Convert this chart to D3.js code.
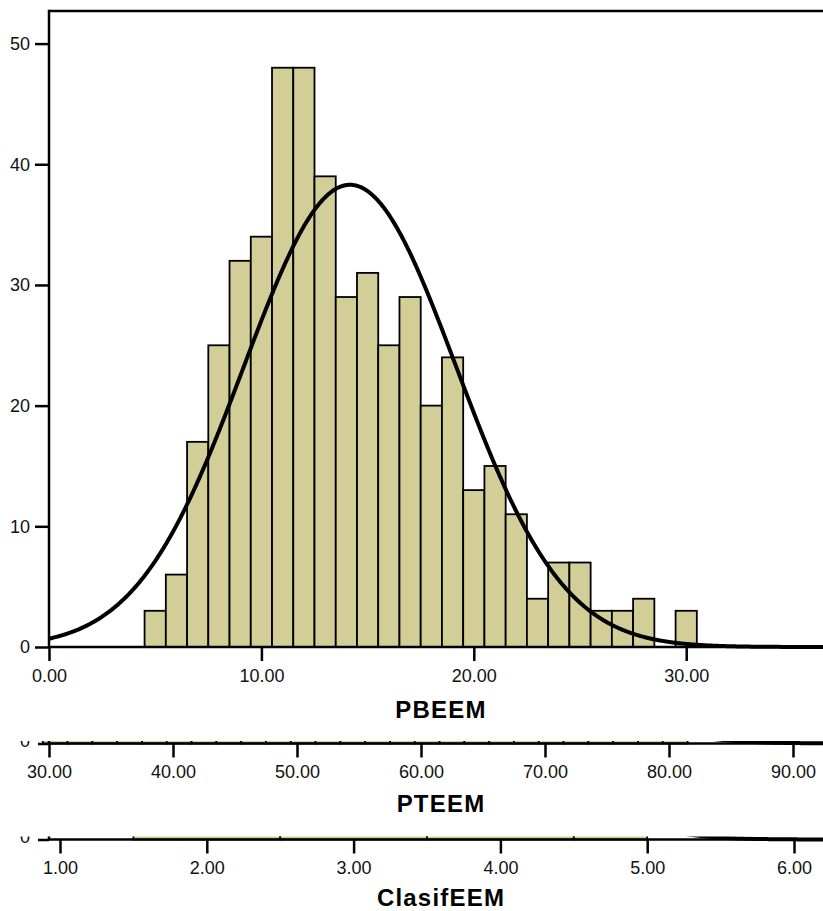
<!DOCTYPE html>
<html>
<head>
<meta charset="utf-8">
<script src="https://cdn.jsdelivr.net/npm/d3@7"></script>
<style>
  body { margin: 0; background: #fff; }
  svg { display: block; font-family: "Liberation Sans", Arial, sans-serif; }
</style>
</head>
<body>
<svg id="chart" width="823" height="911"></svg>
<script>
// PBEEM histogram (bin centres, width 1) and its fitted normal curve
const pbeemCenters = [5, 6, 7, 8, 9, 10, 11, 12, 13, 14, 15, 16, 17, 18, 19, 20, 21, 22, 23, 24, 25, 26, 27, 28, 30];
const pbeemCounts  = [3, 6, 17, 25, 32, 34, 48, 48, 39, 29, 31, 25, 29, 20, 24, 13, 15, 11, 4, 7, 7, 3, 3, 4, 3];
const pbeemBinWidth = 1;
const pbeemMean = 14.17;
const pbeemSd = 5.0;
const pbeemXTicks = [0, 10, 20, 30];
const pbeemYTicks = [0, 10, 20, 30, 40, 50];

// PTEEM histogram (bin centres, width 2); only its base strip shows
const pteemCenters = [30.5, 32.5, 34.5, 36.5, 38.5, 40.5, 42.5, 44.5, 46.5, 48.5, 50.5, 52.5, 54.5,
                      56.5, 58.5, 60.5, 62.5, 64.5, 66.5, 68.5, 70.5, 72.5, 74.5, 76.5, 78.5, 80.5];
const pteemCounts  = [4, 6, 9, 12, 15, 20, 24, 27, 30, 33, 35, 34, 31,
                      30, 28, 26, 24, 20, 18, 15, 12, 9, 7, 5, 4, 2];
const pteemBinWidth = 2;
const pteemMean = 53.0;
const pteemSd = 9.8;
const pteemXTicks = [30, 40, 50, 60, 70, 80, 90];

// ClasifEEM histogram (bin edges); only its base strip shows
const clasifEdges  = [1.5, 2.5, 3.5, 4.5, 5.0];
const clasifCounts = [110, 250, 105, 15];
const clasifBinWidth = 1;
const clasifMean = 3.05;
const clasifSd = 0.72;
const clasifXTicks = [1, 2, 3, 4, 5, 6];

const FILL = "#d3ce98";
const fmt = d3.format(".2f");
const svg = d3.select("#chart");

function normalCurve(n, bw, mean, sd) {
  const k = n * bw / (sd * Math.sqrt(2 * Math.PI));
  return x => k * Math.exp(-0.5 * ((x - mean) / sd) ** 2);
}

function styleAxis(g, fontSize) {
  g.select(".domain").remove();
  g.selectAll(".tick line").attr("stroke", "#000").attr("stroke-width", 2.5);
  g.selectAll(".tick text").attr("fill", "#111").style("font-size", fontSize + "px")
    .style("font-family", '"Liberation Sans", Arial, sans-serif');
}

// ---------- main panel: PBEEM ----------
const plotLeft = 49, plotRight = 823, plotTop = 11, plotBase = 647;
const x1 = d3.scaleLinear().domain([0, 36.44]).range([plotLeft, plotRight]);
const y1 = d3.scaleLinear().domain([0, 52.7]).range([plotBase, plotTop]);

const main = svg.append("g");
const bins1 = pbeemCenters.map((c, i) => ({ x0: c - pbeemBinWidth / 2, x1: c + pbeemBinWidth / 2, n: pbeemCounts[i] }));
main.selectAll("rect.bar").data(bins1).join("rect")
  .attr("class", "bar")
  .attr("x", d => x1(d.x0))
  .attr("y", d => y1(d.n))
  .attr("width", d => x1(d.x1) - x1(d.x0))
  .attr("height", d => y1(0) - y1(d.n))
  .attr("fill", FILL).attr("stroke", "#000").attr("stroke-width", 1.8);

const n1 = d3.sum(pbeemCounts);
const f1 = normalCurve(n1, pbeemBinWidth, pbeemMean, pbeemSd);
const xs1 = d3.range(0, 36.44 + 0.05, 0.05);
main.append("path").datum(xs1)
  .attr("fill", "none").attr("stroke", "#000").attr("stroke-width", 4)
  .attr("d", d3.line().x(d => x1(d)).y(d => y1(f1(d))));

// frame: left axis, top border and base line
main.append("line").attr("x1", plotLeft).attr("x2", plotLeft).attr("y1", plotTop - 1.25).attr("y2", plotBase)
  .attr("stroke", "#000").attr("stroke-width", 2.5);
main.append("line").attr("x1", plotLeft).attr("x2", plotRight).attr("y1", plotTop).attr("y2", plotTop)
  .attr("stroke", "#000").attr("stroke-width", 2.5);
main.append("line").attr("x1", plotLeft).attr("x2", plotRight).attr("y1", plotBase).attr("y2", plotBase)
  .attr("stroke", "#000").attr("stroke-width", 2.5);

const ax1 = main.append("g").attr("transform", `translate(0,${plotBase})`)
  .call(d3.axisBottom(x1).tickValues(pbeemXTicks).tickFormat(fmt).tickSize(14).tickPadding(8));
styleAxis(ax1, 18);
const ay1 = main.append("g").attr("transform", `translate(${plotLeft},0)`)
  .call(d3.axisLeft(y1).tickValues(pbeemYTicks).tickFormat(d3.format("d")).tickSize(14).tickPadding(5));
styleAxis(ay1, 18);

main.append("text").attr("x", 441).attr("y", 718).attr("text-anchor", "middle")
  .style("font-size", "24px").style("font-weight", "bold").style("letter-spacing", "1.2px")
  .attr("fill", "#000").text("PBEEM");

// ---------- cut-off panels ----------
function stripPanel(opts) {
  const { id, bins, n, bw, mean, sd, domain, zero, yMax, clipTop, ticks, title, titleY } = opts;
  const span = domain[1] - domain[0];
  const x = d3.scaleLinear().domain(domain).range([plotLeft, plotRight]);
  const y = d3.scaleLinear().domain([0, yMax]).range([zero, zero - 604]);

  svg.append("clipPath").attr("id", id)
    .append("rect").attr("x", 0).attr("y", clipTop).attr("width", 823).attr("height", 911 - clipTop);
  const g = svg.append("g").attr("clip-path", `url(#${id})`);

  g.selectAll("rect.bar").data(bins).join("rect")
    .attr("class", "bar")
    .attr("x", d => x(d.x0))
    .attr("y", d => y(d.n))
    .attr("width", d => x(d.x1) - x(d.x0))
    .attr("height", d => y(0) - y(d.n))
    .attr("fill", FILL).attr("stroke", "#000").attr("stroke-width", 1.8);

  const f = normalCurve(n, bw, mean, sd);
  const xs = d3.range(domain[0], domain[1] + span / 2000, span / 2000);
  g.append("path").datum(xs)
    .attr("fill", "none").attr("stroke", "#000").attr("stroke-width", 4)
    .attr("d", d3.line().x(d => x(d)).y(d => y(f(d))));

  g.append("line").attr("x1", plotLeft).attr("x2", plotRight).attr("y1", zero).attr("y2", zero)
    .attr("stroke", "#000").attr("stroke-width", 2.5);
  g.append("line").attr("x1", plotLeft).attr("x2", plotLeft).attr("y1", zero - 604).attr("y2", zero)
    .attr("stroke", "#000").attr("stroke-width", 2.5);

  const ay = g.append("g").attr("transform", `translate(${plotLeft},0)`)
    .call(d3.axisLeft(y).tickValues([0]).tickFormat(d3.format("d")).tickSize(11).tickPadding(8));
  styleAxis(ay, 18);
  ay.selectAll(".tick text").attr("dy", "3px");

  const ax = g.append("g").attr("transform", `translate(0,${zero})`)
    .call(d3.axisBottom(x).tickValues(ticks).tickFormat(fmt).tickSize(14).tickPadding(8));
  styleAxis(ax, 18);

  svg.append("text").attr("x", 441).attr("y", titleY).attr("text-anchor", "middle")
    .style("font-size", "24px").style("font-weight", "bold").style("letter-spacing", "1.2px")
    .attr("fill", "#000").text(title);
}

stripPanel({
  id: "clip-pteem",
  bins: pteemCenters.map((c, i) => ({ x0: c - pteemBinWidth / 2, x1: c + pteemBinWidth / 2, n: pteemCounts[i] })),
  n: d3.sum(pteemCounts), bw: pteemBinWidth, mean: pteemMean, sd: pteemSd,
  domain: [30, 30 + (plotRight - plotLeft) / 12.4], zero: 743.5, yMax: 40, clipTop: 741,
  ticks: pteemXTicks, title: "PTEEM", titleY: 812
});

stripPanel({
  id: "clip-clasif",
  bins: clasifCounts.map((n, i) => ({ x0: clasifEdges[i], x1: clasifEdges[i + 1], n })),
  n: d3.sum(clasifCounts), bw: clasifBinWidth, mean: clasifMean, sd: clasifSd,
  domain: [1 - 11 / 146.8, 1 - 11 / 146.8 + (plotRight - plotLeft) / 146.8], zero: 839.5, yMax: 260, clipTop: 836.5,
  ticks: clasifXTicks, title: "ClasifEEM", titleY: 906
});
</script>
</body>
</html>
